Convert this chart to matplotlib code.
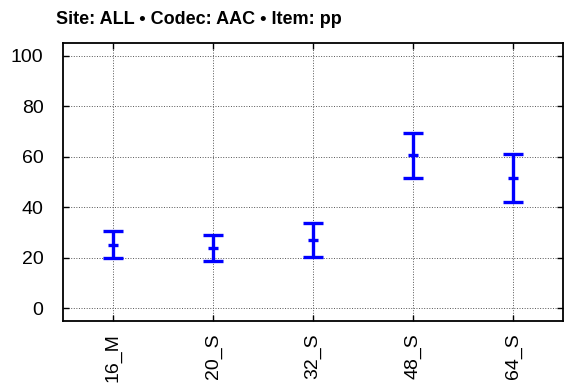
import numpy as np
import matplotlib.pyplot as plt

conditions = ['16_M', '20_S', '32_S', '48_S', '64_S']
means = [25.2, 24.0, 27.0, 60.5, 51.7]
ci_low = [19.9, 18.6, 20.4, 51.5, 42.2]
ci_high = [30.5, 29.2, 33.6, 69.3, 61.1]

fig = plt.figure(figsize=(5.64, 3.89), dpi=100)
ax = fig.add_axes([63 / 564, 1 - 321 / 389, 500 / 564, 278 / 389])

x = np.arange(1, len(conditions) + 1)
m = np.array(means)
lo = m - np.array(ci_low)
hi = np.array(ci_high) - m
ax.errorbar(x, m, yerr=[lo, hi], fmt='none', ecolor='#0000ff',
            elinewidth=2.4, capsize=7, capthick=2.4, zorder=3)
# short horizontal tick for the mean
ax.scatter(x, m, marker='_', s=50, c='#0000ff', linewidths=2.4, zorder=4)

ax.set_xlim(0.5, 5.5)
ax.set_ylim(-5, 105)
ax.set_xticks(x)
ax.set_xticklabels(conditions, rotation=90, fontsize=14, family='Liberation Sans')
ax.set_yticks([0, 20, 40, 60, 80, 100])
ax.set_yticklabels(['0', '20', '40', '60', '80', '100'], fontsize=14, family='Liberation Sans')
ax.tick_params(direction='in', top=True, right=True, length=4, width=1)
ax.tick_params(axis='y', pad=14)
ax.tick_params(axis='x', pad=9)
ax.grid(True, color='#555555', linestyle=':', linewidth=0.7)
for s in ax.spines.values():
    s.set_linewidth(1.3)

fig.text(56 / 564, 1 - 19 / 389, 'Site: ALL \u2022 Codec: AAC \u2022 Item: pp',
         fontsize=13, fontweight='bold', va='center', ha='left',
         family=['Liberation Sans', 'DejaVu Sans'])

fig.savefig('out.png', dpi=100)
